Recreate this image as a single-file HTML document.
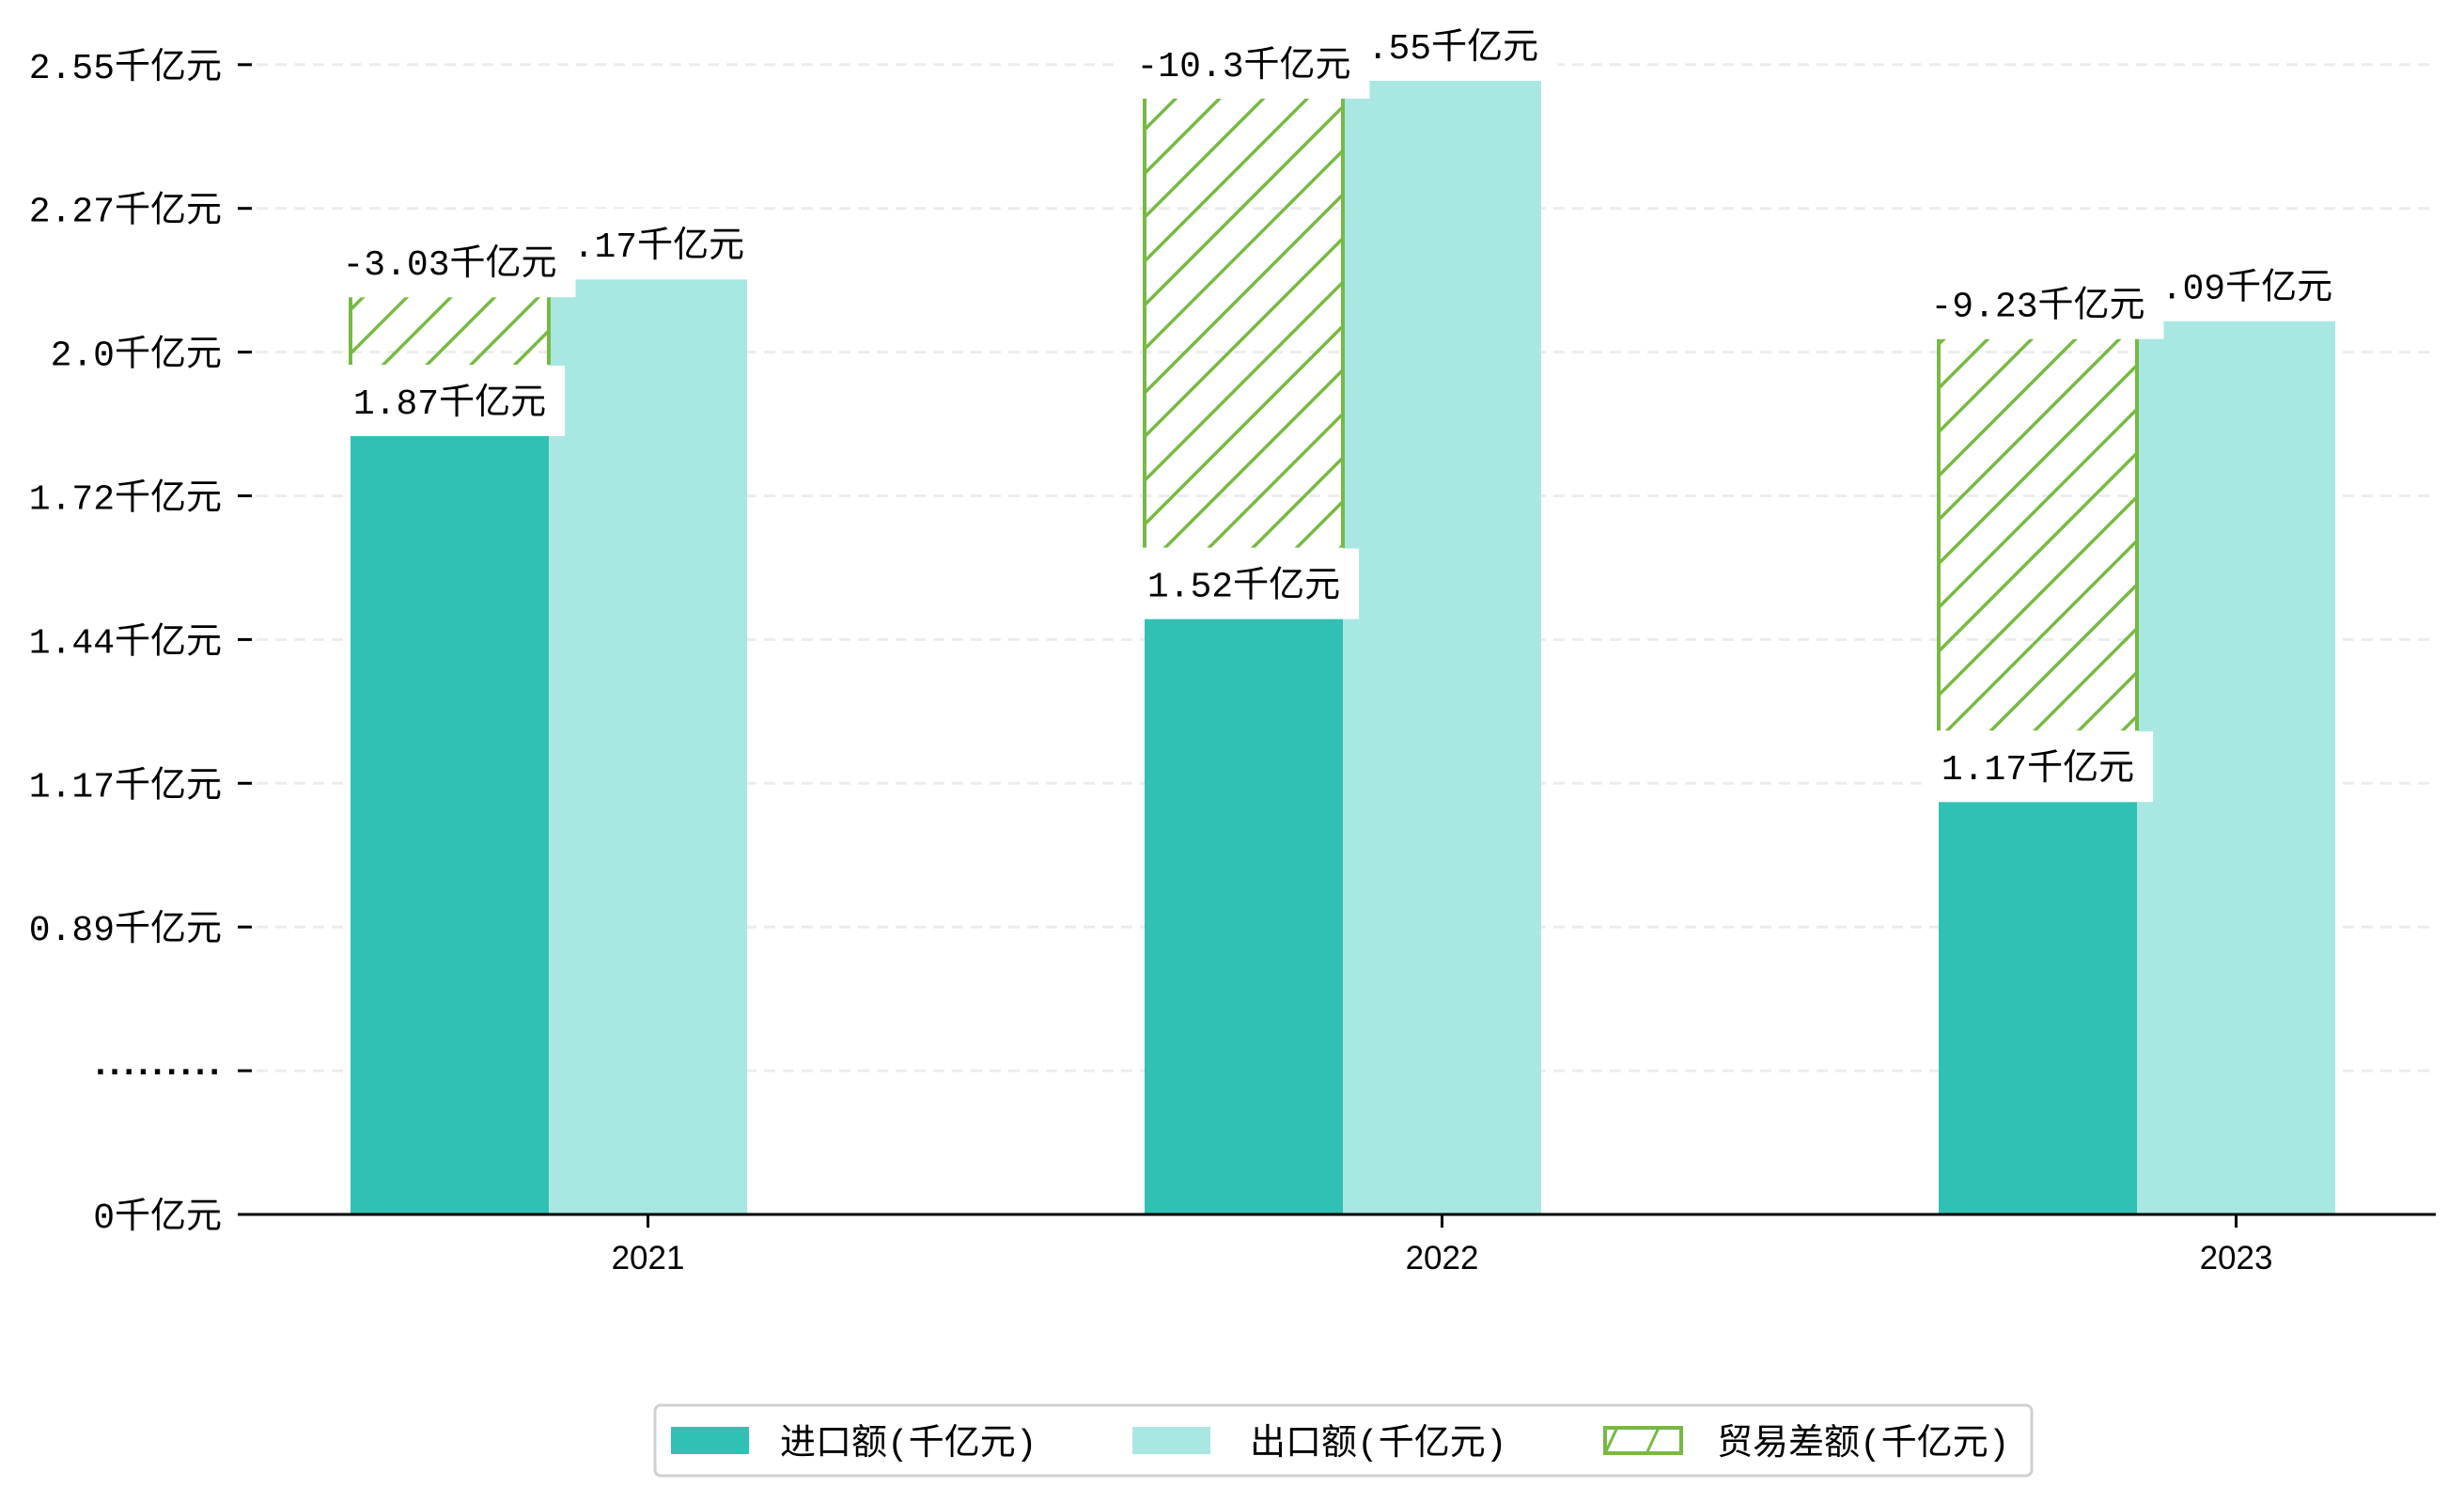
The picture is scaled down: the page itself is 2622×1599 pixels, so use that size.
<!DOCTYPE html>
<html><head><meta charset="utf-8">
<style>
html,body{margin:0;padding:0;background:#fff;}
svg{display:block;font-family:"Liberation Mono","Noto Sans CJK SC",monospace;}
</style></head>
<body>
<svg id="chart" width="2622" height="1599" viewBox="0 0 2622 1599" xmlns="http://www.w3.org/2000/svg">
<defs>
<pattern id="hatch" patternUnits="userSpaceOnUse" width="33" height="33" patternTransform="rotate(45)">
<line x1="0" y1="0" x2="0" y2="33" stroke="#78b943" stroke-width="7"/>
</pattern>
<pattern id="hatch2" patternUnits="userSpaceOnUse" width="40" height="40" patternTransform="rotate(25)">
<line x1="0" y1="0" x2="0" y2="40" stroke="#78b943" stroke-width="6"/>
</pattern>
</defs>
<g id="grid"></g>
<g id="bars"></g>
<g id="labels"></g>
<g id="axes"></g>
<g id="legend">
<rect x="697" y="1495" width="1465" height="75" rx="6" fill="#fff" stroke="#d0d0d0" stroke-width="3"/>
<rect x="714" y="1518" width="83" height="29" fill="#31c0b4"/>
<text x="830" y="1547" font-size="38">进口额(千亿元)</text>
<rect x="1205" y="1518" width="83" height="29" fill="#a9e8e2"/>
<text x="1330" y="1547" font-size="38">出口额(千亿元)</text>
<rect x="1708" y="1519" width="81" height="27" fill="url(#hatch2)" stroke="#78b943" stroke-width="4"/>
<text x="1827" y="1547" font-size="38">贸易差额(千亿元)</text>
</g>
</svg>
<script>
const years = ["2021","2022","2023"];
const imports = [1.87, 1.52, 1.17];
const exports = [2.17, 2.55, 2.09];
const balance = [-3.03, -10.3, -9.23];
const yTickLabels = ["0千亿元","·········","0.89千亿元","1.17千亿元","1.44千亿元","1.72千亿元","2.0千亿元","2.27千亿元","2.55千亿元"];

const NS = "http://www.w3.org/2000/svg";
const baseY = 1292, axisL = 253, axisR = 2592;
const tickStep = 152.9;
function yScale(v){ return Math.min(baseY, 464 - (v - 1.87) * 556); }
function groupX(i){ return 373 + i * 845; }
const barW = 211;
function el(tag, attrs, parent){
  const e = document.createElementNS(NS, tag);
  for (const k in attrs) e.setAttribute(k, attrs[k]);
  parent.appendChild(e); return e;
}
const grid = document.getElementById('grid');
const bars = document.getElementById('bars');
const labels = document.getElementById('labels');
const axes = document.getElementById('axes');

yTickLabels.forEach((t, i) => {
  const y = baseY - i * tickStep;
  if (i > 0) {
    const g = el('line', {x1: axisL, x2: axisR, y1: y, y2: y, stroke: '#ececec', 'stroke-width': 3, 'stroke-dasharray': '12,8'}, grid);
    
    
  }
  const tk = el('line', {x1: axisL, x2: axisL + 15, y1: y, y2: y, stroke: '#000', 'stroke-width': 3}, axes);
  
  
  const attrs = {x: 236, y: y + 14, 'font-size': 38, 'text-anchor': 'end'};
  if (i === 1) { attrs['font-family'] = '"Liberation Sans", sans-serif'; attrs['font-weight'] = 'bold'; attrs['letter-spacing'] = '2.5'; attrs.x = 238; }
  const tx = el('text', attrs, axes);
  tx.textContent = t;
  
  
});

function labelBox(cx, bottom, text, name){
  const g = el('g', {}, labels);
  
  
  const t = el('text', {x: cx, y: bottom - 24, 'font-size': 38, 'text-anchor': 'middle'}, g);
  t.textContent = text;
  const w = t.getComputedTextLength();
  const r = el('rect', {x: cx - w/2 - 20, y: bottom - 75, width: w + 40, height: 75, fill: '#fff'}, g);
  g.insertBefore(r, t);
}

years.forEach((yr, i) => {
  const x0 = groupX(i);
  const impTop = yScale(imports[i]);
  const expTop = yScale(exports[i]);
  const b1 = el('rect', {x: x0, y: impTop, width: barW, height: baseY - impTop, fill: '#31c0b4'}, bars);
  
  
  const b2 = el('rect', {x: x0 + barW, y: expTop, width: barW, height: baseY - expTop, fill: '#a9e8e2'}, bars);
  
  
  const hTop = expTop + 19, hBot = impTop - 76;
  const h = el('rect', {x: x0, y: hTop, width: barW, height: Math.max(0, hBot - hTop), fill: 'url(#hatch)'}, bars);
  
  
  [x0, x0 + barW].forEach(xx => {
    const s = el('line', {x1: xx, x2: xx, y1: hTop, y2: hBot, stroke: '#78b943', 'stroke-width': 4}, bars);
    
    
  });
  labelBox(x0 + barW * 1.5, expTop, exports[i] + '千亿元', 'export-label-' + yr);
  labelBox(x0 + barW / 2, hTop, balance[i] + '千亿元', 'balance-label-' + yr);
  labelBox(x0 + barW / 2, impTop, imports[i] + '千亿元', 'import-label-' + yr);
  const cx = x0 + barW * 1.5;
  const xt = el('line', {x1: cx, x2: cx, y1: baseY, y2: baseY + 14, stroke: '#000', 'stroke-width': 3}, axes);
  
  
  const xl = el('text', {x: cx, y: baseY + 58, 'font-size': 35, 'text-anchor': 'middle', 'font-family': '"Liberation Sans", sans-serif'}, axes);
  xl.textContent = yr;
  
  
});
const ax = el('line', {x1: axisL, x2: axisR, y1: baseY, y2: baseY, stroke: '#000', 'stroke-width': 3}, axes);


</script>
</body></html>
